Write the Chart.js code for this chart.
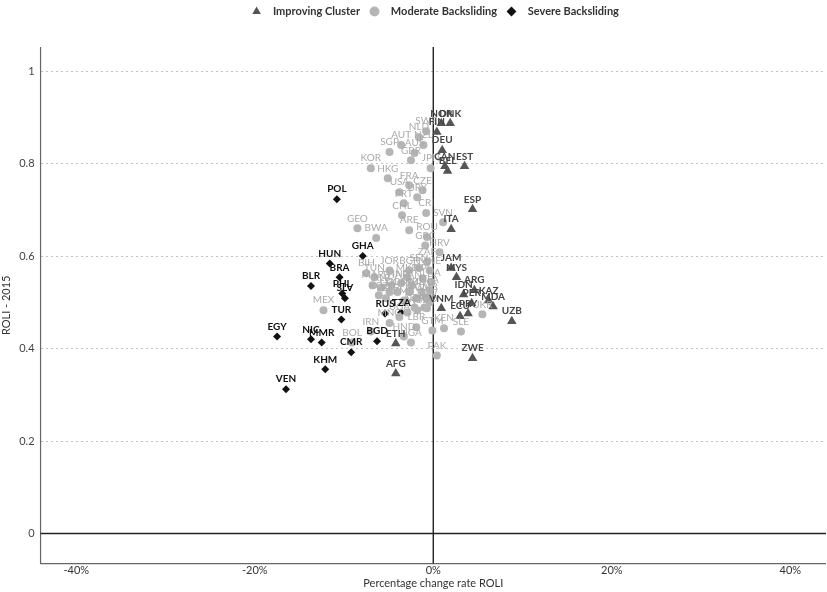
<!DOCTYPE html>
<html>
<head>
<meta charset="utf-8">
<script src="https://cdn.jsdelivr.net/npm/chart.js@4.4.1/dist/chart.umd.min.js"></script>
<style>
  html, body { margin: 0; padding: 0; background: #fff; }
  canvas { display: block; }
</style>
</head>
<body>
<canvas id="roliChart" width="827" height="592"></canvas>
<script>
// % change in ROLI vs ROLI score 2015
const improvingCodes = ['NOR','DNK','FIN','DEU','CAN','BEL','EST','ESP','ITA','JAM','MYS','IDN','ARG','KAZ','MDA','PER','VNM','ECU','PRY','UZB','ZWE','ETH','AFG'];
const improvingChange = [0.9,1.9,0.4,1.0,1.3,1.6,3.5,4.4,2.0,2.0,2.6,3.4,4.6,6.2,6.7,4.3,0.9,3.0,3.9,8.8,4.4,-4.2,-4.2];
const improvingRoli = [0.887,0.887,0.868,0.829,0.794,0.784,0.794,0.701,0.658,0.574,0.554,0.517,0.526,0.504,0.491,0.498,0.487,0.470,0.476,0.459,0.379,0.411,0.346];

const moderateCodes = ['SWE','NLD','NZL','AUT','SGP','AUS','GBR','JPN','KOR','HKG','FRA','USA','CZE','URY','PRT','CHL','CRI','SVN','GEO','ARE','BWA','ROU','GRC','HRV','ZAF','SEN','JOR','BGR','BIH','TUN','MKD','MNE','NPL','LKA','MAR','ALB','THA','IND','PAN','COL','DOM','SRB','MDG','BFA','KGZ','LBN','MWI','GMB','ZMB','CIV','DZA','NER','MLI','MOZ','TGO','UKR','IRN','MEX','BOL','LBR','GTM','KEN','SLE','NGA','HND','UGA','PAK','MNG'];
const moderateChange = [-0.8,-1.6,-1.1,-3.6,-4.9,-2.1,-2.5,-0.3,-7.0,-5.1,-2.7,-3.8,-1.2,-1.8,-3.3,-3.5,-0.8,1.1,-8.5,-2.7,-6.4,-0.7,-0.9,0.7,-0.7,-1.6,-4.9,-2.7,-7.5,-6.6,-2.9,-0.4,-1.2,-0.2,-6.8,-5.8,-4.7,-3.6,-2.4,-4.9,-4.0,-2.7,-1.3,-0.4,-6.1,-5.3,-1.9,-0.8,-3.3,-0.4,-2.1,-1.0,-2.9,-1.8,-0.7,5.5,-7.0,-12.3,-9.1,-1.9,-0.1,1.2,3.1,-2.5,-3.3,-3.8,0.4,-4.9];
const moderateRoli = [0.870,0.857,0.840,0.840,0.825,0.823,0.807,0.790,0.790,0.768,0.753,0.738,0.742,0.727,0.714,0.688,0.693,0.673,0.660,0.656,0.639,0.641,0.623,0.608,0.587,0.574,0.569,0.569,0.563,0.554,0.554,0.569,0.552,0.543,0.537,0.532,0.537,0.541,0.537,0.522,0.522,0.522,0.522,0.526,0.515,0.509,0.509,0.511,0.504,0.500,0.489,0.489,0.478,0.483,0.487,0.474,0.437,0.483,0.413,0.446,0.439,0.444,0.437,0.413,0.426,0.468,0.385,0.455];

const severeCodes = ['POL','HUN','GHA','BRA','BLR','PHL','SLV','TUR','EGY','NIC','MMR','CMR','KHM','VEN','BGD','RUS','TZA'];
const severeChange = [-10.8,-11.6,-7.9,-10.5,-13.7,-10.2,-9.9,-10.3,-17.5,-13.7,-12.5,-9.2,-12.1,-16.5,-6.3,-5.4,-3.6];
const severeRoli = [0.723,0.584,0.600,0.554,0.535,0.519,0.509,0.463,0.426,0.420,0.413,0.392,0.355,0.312,0.416,0.476,0.478];

const xTicks = [-40, -20, 0, 20, 40];
const yTicks = [0, 0.2, 0.4, 0.6, 0.8, 1];

const toPoints = (xs, ys) => xs.map((x, i) => ({ x: x, y: ys[i] }));

const FONT = 'Lato, "DejaVu Sans", sans-serif';

// legend sits a bit right of centre and leaves room above the plot
const legendSpace = {
  id: 'legendSpace',
  beforeInit(chart) {
    const fit = chart.legend.fit;
    chart.legend.fit = function () {
      fit.bind(this)();
      this.height = 47;
    };
  },
  afterLayout(chart) {
    chart.legend.left += 22;
    chart.legend.right += 22;
    chart.legend.top -= 3;
  }
};

// country codes above each marker, gray ones first so dark labels sit on top
const codeLabels = {
  id: 'codeLabels',
  afterDatasetsDraw(chart) {
    const ctx = chart.ctx;
    const order = [1, 0, 2];
    ctx.save();
    ctx.textAlign = 'center';
    ctx.textBaseline = 'middle';
    order.forEach(di => {
      const ds = chart.data.datasets[di];
      const meta = chart.getDatasetMeta(di);
      ctx.fillStyle = ds.labelColor;
      ctx.font = ds.labelWeight + ' 10px ' + FONT;
      meta.data.forEach((el, i) => {
        ctx.fillText(ds.codes[i], el.x, el.y - 10);
      });
    });
    ctx.restore();
  }
};

// axis frame plus the two zero lines
const zeroLines = {
  id: 'zeroLines',
  beforeDatasetsDraw(chart) {
    const { ctx, chartArea: a, scales } = chart;
    const x0 = scales.x.getPixelForValue(0);
    const y0 = scales.y.getPixelForValue(0);
    ctx.save();
    ctx.strokeStyle = '#666';
    ctx.lineWidth = 1.2;
    ctx.beginPath();
    ctx.moveTo(a.left, a.top);
    ctx.lineTo(a.left, a.bottom);
    ctx.lineTo(a.right, a.bottom);
    ctx.stroke();
    ctx.strokeStyle = '#222';
    ctx.lineWidth = 1.4;
    ctx.beginPath();
    ctx.moveTo(a.left, y0);
    ctx.lineTo(a.right, y0);
    ctx.moveTo(x0, a.top);
    ctx.lineTo(x0, a.bottom);
    ctx.stroke();
    ctx.restore();
  }
};

new Chart(document.getElementById('roliChart').getContext('2d'), {
  type: 'scatter',
  data: {
    datasets: [
      {
        label: 'Improving Cluster',
        data: toPoints(improvingChange, improvingRoli),
        codes: improvingCodes,
        labelColor: '#444',
        labelWeight: 'bold',
        pointStyle: 'triangle',
        pointRadius: 5.5,
        backgroundColor: '#555',
        borderColor: '#555',
        borderWidth: 0
      },
      {
        label: 'Moderate Backsliding',
        data: toPoints(moderateChange, moderateRoli),
        codes: moderateCodes,
        labelColor: '#aaa',
        labelWeight: 'normal',
        pointStyle: 'circle',
        pointRadius: 4,
        backgroundColor: '#b5b5b5',
        borderColor: '#b5b5b5',
        borderWidth: 0
      },
      {
        label: 'Severe Backsliding',
        data: toPoints(severeChange, severeRoli),
        codes: severeCodes,
        labelColor: '#111',
        labelWeight: 'bold',
        pointStyle: 'rectRot',
        pointRadius: 4,
        backgroundColor: '#111',
        borderColor: '#111',
        borderWidth: 0
      }
    ]
  },
  options: {
    responsive: false,
    animation: false,
    layout: { autoPadding: false, padding: { top: 0, left: 0, bottom: 2, right: 1 } },
    plugins: {
      tooltip: { enabled: false },
      legend: {
        position: 'top',
        labels: {
          usePointStyle: true,
          boxHeight: 7,
          padding: 9,
          color: '#333',
          font: { family: FONT, size: 11, weight: 'bold' },
          generateLabels: chart =>
            Chart.defaults.plugins.legend.labels.generateLabels(chart)
              .map(item => Object.assign(item, { text: '  ' + item.text }))
        }
      }
    },
    scales: {
      x: {
        type: 'linear',
        min: -44,
        max: 44,
        afterBuildTicks: s => { s.ticks = xTicks.map(v => ({ value: v })); },
        grid: { display: false, drawTicks: false },
        border: { display: false },
        ticks: {
          color: '#333',
          padding: 0,
          font: { family: FONT, size: 11 },
          callback: v => v + '%'
        },
        title: {
          display: true,
          text: 'Percentage change rate ROLI',
          color: '#333',
          padding: { top: 0, bottom: 0 },
          font: { family: FONT, size: 11 }
        }
      },
      y: {
        type: 'linear',
        min: -0.065,
        max: 1.052,
        afterBuildTicks: s => { s.ticks = yTicks.map(v => ({ value: v })); },
        grid: { color: '#c4c4c4', lineWidth: 1, drawTicks: false },
        border: { display: false, dash: [2, 3] },
        ticks: {
          color: '#444',
          padding: 6,
          font: { family: FONT, size: 11 },
          callback: v => String(+v.toFixed(1))
        },
        title: {
          display: true,
          text: 'ROLI - 2015',
          color: '#333',
          padding: { top: 0, bottom: 0 },
          font: { family: FONT, size: 11 }
        }
      }
    }
  },
  plugins: [legendSpace, zeroLines, codeLabels]
});
</script>
</body>
</html>
